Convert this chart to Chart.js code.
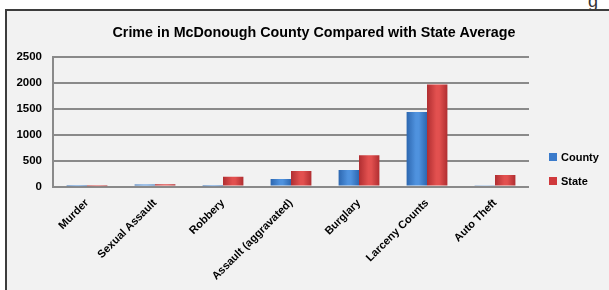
<!DOCTYPE html>
<html>
<head>
<meta charset="utf-8">
<script src="https://cdn.jsdelivr.net/npm/chart.js@4.4.1/dist/chart.umd.min.js"></script>
<style>
    html, body { margin: 0; padding: 0; background: #fff; overflow: hidden; width: 609px; height: 290px; }
    #box { position: absolute; left: 5px; top: 9px; width: 640px; height: 300px; border: 2px solid #3d3d3d; background: #f2f2f2; }
    #crime-graph { display: block; }
    #stray { position: absolute; left: 588px; top: -9px; font: 18px "Liberation Sans", sans-serif; color: #333; }
</style>
</head>
<body>
<div id="stray">g</div>
<div id="box"><canvas id="crime-graph" width="640" height="300"></canvas></div>
<script>
const chartTitle = "Crime in McDonough County Compared with State Average"

const categories = [
    "Murder",
    "Sexual Assault",
    "Robbery",
    "Assault (aggravated)",
    "Burglary",
    "Larceny Counts",
    "Auto Theft"
]

const countyValues = [3, 40, 5, 145, 320, 1440, 15]
const stateValues = [6, 45, 190, 300, 605, 1970, 220]

const seriesNames = ["County", "State"]
const seriesColors = ["#3b7bcb", "#d0393c"]
// tons para o efeito de relevo das barras (borda, meio)
const seriesShades = [["#2d67b0", "#4f92de"], ["#b02e31", "#e2504f"]]

const yMax = 2500
const yStep = 500

const FONT = "'Liberation Sans', Arial, sans-serif"

// titulo centrado no objeto inteiro do grafico (que passa da janela)
const titlePlugin = {
    id: "boxTitle",
    afterDraw(chart) {
        const ctx = chart.ctx
        ctx.save()
        ctx.font = "bold 14.3px " + FONT
        ctx.fillStyle = "#000"
        ctx.textAlign = "center"
        ctx.textBaseline = "middle"
        ctx.fillText(chartTitle, 307, 22)
        ctx.restore()
    }
}

// gradiente horizontal em cada barra, imitando o visual 3D do Excel
// (cada barra ganha seu proprio objeto de options, senao o Chart.js compartilha)
const bevelPlugin = {
    id: "bevel",
    beforeDatasetsDraw(chart) {
        const ctx = chart.ctx
        chart.data.datasets.forEach((ds, i) => {
            const [edge, mid] = seriesShades[i]
            chart.getDatasetMeta(i).data.forEach(bar => {
                const half = bar.width / 2
                const g = ctx.createLinearGradient(bar.x - half, 0, bar.x + half, 0)
                g.addColorStop(0, edge)
                g.addColorStop(0.45, mid)
                g.addColorStop(0.6, mid)
                g.addColorStop(1, edge)
                bar.options = Object.assign({}, bar.options, { backgroundColor: g })
            })
        })
    }
}

// legenda a direita, feita a partir dos datasets
const legendPlugin = {
    id: "sideLegend",
    afterDraw(chart) {
        const ctx = chart.ctx
        const x = chart.chartArea.right + 20
        ctx.save()
        ctx.font = "bold 11px " + FONT
        ctx.textBaseline = "middle"
        ctx.textAlign = "left"
        chart.data.datasets.forEach((ds, i) => {
            const y = 146 + i * 24
            ctx.fillStyle = ds.backgroundColor
            ctx.fillRect(x, y - 4, 8, 8)
            ctx.fillStyle = "#000"
            ctx.fillText(ds.label, x + 12, y + 1)
        })
        ctx.restore()
    }
}

new Chart(document.getElementById("crime-graph"), {
    type: "bar",
    data: {
        labels: categories,
        datasets: [{
            label: seriesNames[0],
            data: countyValues,
            backgroundColor: seriesColors[0],
            categoryPercentage: 0.6,
            barPercentage: 1.0
        }, {
            label: seriesNames[1],
            data: stateValues,
            backgroundColor: seriesColors[1],
            categoryPercentage: 0.6,
            barPercentage: 1.0
        }]
    },
    options: {
        responsive: false,
        animation: false,
        layout: { padding: { top: 46, right: 118, left: 0, bottom: 0 } },
        scales: {
            x: {
                grid: { display: false },
                border: { display: false },
                ticks: {
                    color: "#000",
                    font: { family: FONT, size: 11, weight: "bold" },
                    maxRotation: 45,
                    minRotation: 45,
                    autoSkip: false,
                    padding: 2
                },
                afterFit(scale) { scale.height = 124.5 }
            },
            y: {
                min: 0,
                max: yMax,
                ticks: {
                    stepSize: yStep,
                    color: "#000",
                    font: { family: FONT, size: 11.5, weight: "bold" },
                    padding: 11,
                    callback: (v) => String(v)
                },
                grid: { color: "#8a8a8a", lineWidth: 2, drawTicks: false },
                border: { display: true, color: "#8a8a8a", width: 2 },
                afterFit(scale) { scale.width = 46 }
            }
        },
        plugins: {
            legend: { display: false },
            title: { display: false },
            tooltip: { enabled: false }
        }
    },
    plugins: [bevelPlugin, titlePlugin, legendPlugin]
})
</script>
</body>
</html>
